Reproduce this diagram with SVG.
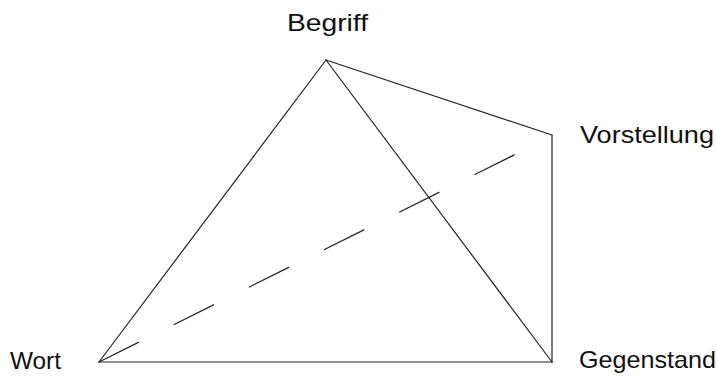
<svg xmlns="http://www.w3.org/2000/svg" width="717" height="378" viewBox="0 0 717 378">
<style>
.lbl{font-family:"Liberation Sans","DejaVu Sans",sans-serif;font-size:24px;fill:#111}
.edge{stroke:#222;stroke-width:1.2;fill:none;stroke-linecap:round}
.dash{stroke-dasharray:44 40}
</style>
<rect width="717" height="378" fill="#fff"/>
<g id="connectors">
<line class="edge" x1="326" y1="60" x2="99" y2="362"/>
<line class="edge" x1="326" y1="60" x2="552" y2="362"/>
<line class="edge" x1="326" y1="60" x2="552" y2="135"/>
<line class="edge" x1="552" y1="135" x2="552" y2="362"/>
<line class="edge" x1="99" y1="362" x2="552" y2="362"/>
<line class="edge dash" x1="99" y1="362" x2="516" y2="154"/>
</g>
<g id="begriff"><text class="lbl" x="287" y="31" textLength="81" lengthAdjust="spacingAndGlyphs">Begriff</text></g>
<g id="vorstellung"><text class="lbl" x="580" y="143" textLength="134" lengthAdjust="spacingAndGlyphs">Vorstellung</text></g>
<g id="wort"><text class="lbl" x="10" y="369" textLength="51" lengthAdjust="spacingAndGlyphs">Wort</text></g>
<g id="gegenstand"><text class="lbl" x="579" y="368" textLength="137" lengthAdjust="spacingAndGlyphs">Gegenstand</text></g>
</svg>
